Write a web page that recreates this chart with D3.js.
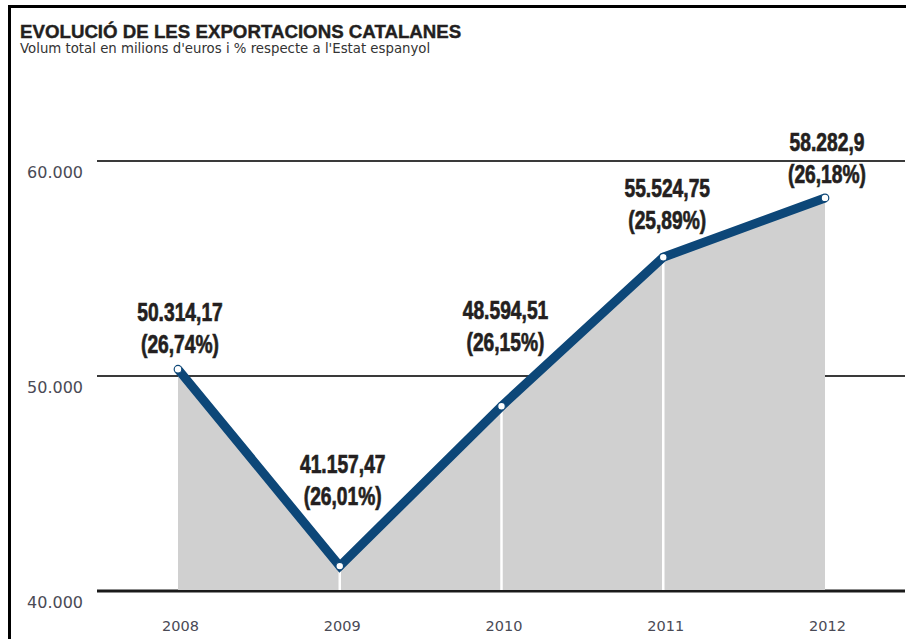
<!DOCTYPE html>
<html>
<head>
<meta charset="utf-8">
<script src="https://cdn.jsdelivr.net/npm/d3@7"></script>
<style>
    body { margin: 0; background: #fff; }
    svg { display: block; }
    .asse text { font-family: "DejaVu Sans", sans-serif; fill: #4a4a55; }
    .etiqueta { font-family: "Liberation Sans", Arial, sans-serif; font-weight: bold; fill: #241f20; stroke: #241f20; stroke-width: 0.7px; }
</style>
</head>
<body>
<script>
"use strict"
/* dades del gràfic */
const anys = ["2008", "2009", "2010", "2011", "2012"];
const exportacions = [50314.17, 41157.47, 48594.51, 55524.75, 58282.9]; /* milions d'euros */
const percentatges = [26.74, 26.01, 26.15, 25.89, 26.18]; /* % respecte a l'Estat */
const marquesY = [40000, 50000, 60000];

/* desplaçament de les etiquetes respecte al punt (només disseny) */
const despl = [
    { dx: 2, dy: -48 }, { dx: 3, dy: -93 }, { dx: 4, dy: -87 },
    { dx: 4, dy: -60 }, { dx: 2, dy: -47 }
];

const grafic = { amplada: 906, altura: 639 };
const locale = d3.formatLocale({ decimal: ",", thousands: ".", grouping: [3], currency: ["", "€"] });
const fmtEix = locale.format(",.0f");
const fmtValor = locale.format(",.2~f");
const fmtPct = locale.format(".2~f");

const dades = anys.map(function (a, i) {
    return { any: a, valor: exportacions[i], pct: percentatges[i], i: i }
});

const svg = d3.select("body").append("svg")
    .attr("width", grafic.amplada)
    .attr("height", grafic.altura);

/* marc negre (costat esquerre i superior) */
svg.append("path")
    .attr("d", "M9.5,639 V6.5 H906")
    .attr("fill", "none")
    .attr("stroke", "#000")
    .attr("stroke-width", 3);

/* títol i subtítol */
svg.append("text")
    .attr("x", 20).attr("y", 38)
    .attr("font-family", "Liberation Sans, Arial, sans-serif")
    .attr("font-weight", "bold")
    .attr("font-size", "18.7px")
    .attr("fill", "#231f20")
    .attr("stroke", "#231f20")
    .attr("stroke-width", 0.4)
    .text("EVOLUCIÓ DE LES EXPORTACIONS CATALANES");
svg.append("text")
    .attr("x", 20).attr("y", 53)
    .attr("font-family", "DejaVu Sans, sans-serif")
    .attr("font-size", "13.3px")
    .attr("fill", "#333")
    .text("Volum total en milions d'euros i % respecte a l'Estat espanyol");

/* escales */
const escalaX = d3.scalePoint().domain(anys).range([178, 825]);
const escalaY = d3.scaleLinear().domain([40000, 60000]).range([591, 161]);
const xInici = 97, xFinal = 905;

/* línies horitzontals */
svg.append("g").selectAll("line")
    .data(marquesY)
    .enter()
    .append("line")
    .attr("x1", xInici).attr("x2", xFinal)
    .attr("y1", function (d) { return escalaY(d) })
    .attr("y2", function (d) { return escalaY(d) })
    .attr("stroke", function (d) { return d == 40000 ? "#1a1a1a" : "#3a3a3a" })
    .attr("stroke-width", function (d) { return d == 40000 ? 3 : 2 });

/* àrea grisa sota la línia */
const area = d3.area()
    .x(function (d) { return escalaX(d.any) })
    .y0(escalaY(40000) - 1)
    .y1(function (d) { return escalaY(d.valor) });
svg.append("path")
    .datum(dades)
    .attr("d", area)
    .attr("fill", "#d0d0d0");

/* separadors blancs verticals */
svg.append("g").selectAll("line")
    .data(dades.slice(1, -1))
    .enter()
    .append("line")
    .attr("x1", function (d) { return escalaX(d.any) })
    .attr("x2", function (d) { return escalaX(d.any) })
    .attr("y1", function (d) { return escalaY(d.valor) })
    .attr("y2", escalaY(40000) - 1)
    .attr("stroke", "#fff")
    .attr("stroke-width", 2.5);

/* línia de les exportacions */
const linia = d3.line()
    .x(function (d) { return escalaX(d.any) })
    .y(function (d) { return escalaY(d.valor) });
svg.append("path")
    .datum(dades)
    .attr("d", linia)
    .attr("fill", "none")
    .attr("stroke", "#0d4778")
    .attr("stroke-width", 9)
    .attr("stroke-linejoin", "miter");

svg.append("g").selectAll("circle")
    .data(dades)
    .enter()
    .append("circle")
    .attr("cx", function (d) { return escalaX(d.any) })
    .attr("cy", function (d) { return escalaY(d.valor) })
    .attr("r", 3.8)
    .attr("fill", "#fff")
    .attr("stroke", "#0d4778")
    .attr("stroke-width", 1.2);

/* etiquetes de valor i percentatge */
const etiquetes = svg.append("g").selectAll("g")
    .data(dades)
    .enter()
    .append("g")
    .attr("class", "etiqueta")
    .attr("transform", function (d) {
        return `translate(${escalaX(d.any) + despl[d.i].dx},${escalaY(d.valor) + despl[d.i].dy}) scale(0.74,1)`
    });
etiquetes.append("text")
    .attr("text-anchor", "middle")
    .attr("font-size", "26px")
    .text(function (d) { return fmtValor(d.valor) });
etiquetes.append("text")
    .attr("text-anchor", "middle")
    .attr("y", 32)
    .attr("font-size", "26px")
    .text(function (d) { return "(" + fmtPct(d.pct) + "%)" });

/* eix vertical (només etiquetes) */
const asseY = d3.axisLeft(escalaY)
    .tickValues(marquesY)
    .tickFormat(fmtEix)
    .tickSize(0)
    .tickPadding(0);
const gruppoY = svg.append("g")
    .attr("class", "asse")
    .attr("transform", "translate(83,0)");
asseY(gruppoY);
gruppoY.select(".domain").remove();
gruppoY.selectAll("text")
    .attr("font-size", "16px")
    .attr("dy", "16px");

/* eix horitzontal (només anys) */
const asseX = d3.axisBottom(escalaX)
    .tickSize(0)
    .tickPadding(30);
const gruppoX = svg.append("g")
    .attr("class", "asse")
    .attr("transform", `translate(2,${escalaY(40000)})`);
asseX(gruppoX);
gruppoX.select(".domain").remove();
gruppoX.selectAll("text")
    .attr("font-size", "14.5px");
</script>
</body>
</html>
